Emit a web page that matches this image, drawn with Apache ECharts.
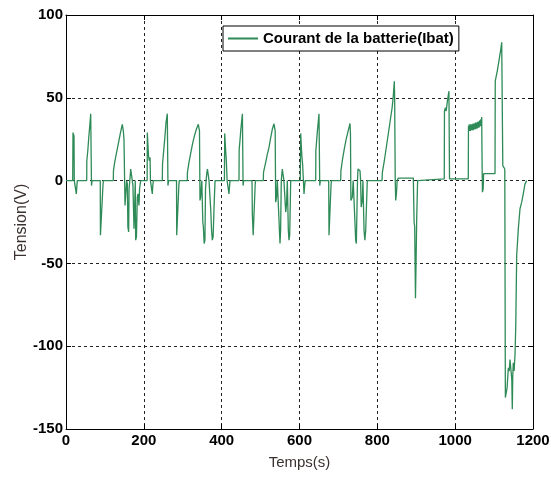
<!DOCTYPE html>
<html>
<head>
<meta charset="utf-8">
<script src="https://cdn.jsdelivr.net/npm/echarts@6/dist/echarts.min.js"></script>
<style>
html,body{margin:0;padding:0;background:#fff;}
#chart{width:551px;height:477px;}
</style>
</head>
<body>
<div id="chart"></div>
<script>
// ---- data ----
const seriesName = 'Courant de la batterie(Ibat)';
const xAxisName = 'Temps(s)';
const yAxisName = 'Tension(V)';
const xTicks = [0, 200, 400, 600, 800, 1000, 1200];
const yTicks = [-150, -100, -50, 0, 50, 100];

const times = [
  0, 17.2, 18, 20.6, 21.3, 25.7, 26.5, 28.3, 29, 53.2, 53.5, 56, 58.5, 61, 63.5, 64.5, 65.5, 67,
  88, 88.5, 89.5, 95, 96, 121.5, 122, 125, 130, 135, 140, 144.7, 146, 147.3, 149, 150, 151.6, 153,
  155.9, 157.6, 159, 161, 162, 164, 166.2, 168, 170.4, 172, 174.7, 176, 178, 179, 181, 183.3, 185,
  187.6, 189, 191.9,
  208.5, 209, 211, 212, 214, 216, 217, 221, 221.8, 223, 224.5, 247.5, 248, 251, 254, 257, 260.3,
  261, 262, 263.5, 284, 284.5, 286, 290, 291, 311.7, 312, 316, 320, 325, 330, 335, 340, 341.8, 343,
  344.3, 346, 349, 350.2, 351.5, 353, 355, 357, 358.5, 360, 362, 363.5, 366, 367.5, 370, 372, 374,
  376, 378, 381, 383,
  407, 407.8, 409.5, 410.3, 412, 414, 418, 418.8, 420, 421.5, 444.5, 445, 447, 449, 451, 453.3,
  454, 455, 456.5, 478, 478.8, 481, 482, 486, 487, 507, 507.5, 513.1, 517.4, 521.6, 526, 530.1,
  534.5, 536.3, 537.5, 538.8, 541, 543, 548, 549.9, 551.5, 553.2, 555.8, 558.4, 560, 563, 564.5,
  566.5, 568.7, 570, 571.3, 573, 574.8, 577.4,
  602, 603, 605, 606, 608, 610, 611.6, 613, 614.5, 641.6, 642, 644, 646, 648, 650.1, 651, 652,
  653.5, 675, 675.8, 677, 681, 682, 705.8, 706.5, 710, 715, 720, 725, 729.8, 731, 732, 735.6, 738,
  743, 744.4, 746, 747.5, 749, 750.3, 755.5, 757, 758.5, 761.4, 763, 765.8, 768, 770.1, 774.2,
  812, 813, 818, 823, 828, 833, 838, 841, 842.5, 843.6, 844.5, 846, 847.2, 849, 851, 853.9,
  892.5, 894.5, 896, 898, 899.5, 901, 903.5, 905, 972, 972.5, 975, 977, 980, 984, 985, 985.5,
  1033.7, 1034.2, 1035, 1036, 1037, 1038, 1039, 1040, 1041, 1042, 1043, 1044, 1045, 1046, 1047,
  1048, 1049, 1050, 1051, 1052, 1053, 1054, 1055, 1056, 1057, 1058, 1059, 1060, 1061, 1062, 1063,
  1064, 1065, 1066, 1067, 1068.2, 1068.8, 1070, 1072, 1073, 1102.4, 1103, 1108, 1113, 1117, 1119.6,
  1121, 1122.4, 1124, 1127.5, 1129, 1131, 1133.5, 1136.6, 1139, 1140.9, 1144, 1145.5, 1146.8, 1148,
  1149.4, 1151.5, 1153.8, 1155.6, 1158.1, 1160, 1162.3, 1166.6, 1171, 1175, 1179.5, 1183.8
];

const current = [
  0, 0, 29, 27, 0, 0, -8, -2, 0, 0, 12, 18, 26, 33, 40.4, 40, -3, 0,
  0, -33, -33, -3, 0, 0, 6, 11, 17, 23, 29, 34, 35, 30, 25, 10, -15, -10,
  0, -2, -28, -31, -5, 0, 7, 6, 0, -3, -29, -20, 0, -36, -34, -10, -8,
  -15, -5, 0,
  0, 29, 28, 15, 12, 14, 0, 0, -8, -3, 0, 0, 10, 18, 26, 35, 40.4,
  40, -3, 0, 0, -33, -33, -3, 0, 0, 5, 11, 16, 22, 27, 31, 34, 35, 30,
  -12, -10, 0, 0, -25, -28, -38, -36, -5, 0, 5, 7, 6, 0, 0, -18, -30,
  -36, -34, -12, 0,
  0, 28.5, 28, 18, 12, 0, 0, -8, -4, 0, 0, 19, 24, 30, 35, 40.4,
  40, -3, 0, 0, -20, -33, -33, -3, 0, 0, 5, 11, 16, 20, 26, 31,
  34.3, 35, 30, -13, -10, 0, 0, -38, -30, 0, 7, 6, 0, 0, -19,
  -15, 0, 0, -30, -36, -33, 0,
  0, 28.5, 28, 15, 10, 0, -8, -4, 0, 0, 18, 24, 30, 35, 40.4, 40, -3,
  0, 0, -33, -33, -3, 0, 0, 6, 12, 19, 25, 30, 34.5, 28, -12, -10, 0,
  0, -36, -38, -20, 0, 7, 6, 0, -16, -12, 0, -30, -36, -30, 0,
  0, 5, 12, 20, 28, 36, 44, 51, 52, 60, 50, 0, -12, -8, 0, 1.5,
  1.5, -25, -28, -71, -50, -25, 0, 1, 1, 42, 44, 42, 48, 54, 55, 1,
  1, 33, 30, 34, 30, 33.5, 30, 34, 30.5, 34, 30.5, 34, 30.5, 34.5, 30.5,
  34.5, 31, 34.5, 31, 35, 31, 35, 31.5, 35, 31.5, 35.5, 32, 35.5, 32, 36, 32.5,
  36.5, 33, 37, 35, 38.4, 20, -7, -5, 4.2, 4.2, 60, 66, 73, 79, 83.5,
  83, 9, 8, 7, -131, -130, -125, -113, -115, -108, -109, -120, -138, -118,
  -110, -115, -105, -89, -45, -38, -29, -17, -13, -8, -2, 0
];

// ---- chart ----
const chart = echarts.init(document.getElementById('chart'), null, {renderer: 'canvas'});
const data = times.map((t, i) => [t, current[i]]);
const FONT = '"Liberation Sans", Arial, sans-serif';
const green = '#2e8b57';

const tickLabelStyle = {color: '#000', fontFamily: FONT, fontWeight: 'bold', fontSize: 15,
  formatter: v => String(v)};

chart.setOption({
  animation: false,
  backgroundColor: '#fff',
  grid: {left: 66, right: 18, top: 15, bottom: 48, show: false, containLabel: false, outerBoundsMode: 'none'},
  legend: {
    data: [seriesName],
    left: 223, top: 26,
    backgroundColor: '#fff',
    borderColor: '#000', borderWidth: 1,
    padding: [5, 5],
    icon: 'rect', itemWidth: 30, itemHeight: 2, itemGap: 4,
    textStyle: {color: '#000', fontFamily: FONT, fontWeight: 'bold', fontSize: 15}
  },
  xAxis: [{
    type: 'value', min: xTicks[0], max: xTicks[xTicks.length - 1], interval: 200,
    position: 'bottom',
    name: xAxisName, nameLocation: 'middle', nameGap: 26, nameMoveOverlap: false,
    nameTextStyle: {color: '#3a3030', fontFamily: FONT, fontSize: 15},
    axisLine: {show: true, onZero: false, lineStyle: {color: '#000', width: 1}},
    axisTick: {show: true, inside: true, length: 5, lineStyle: {color: '#000'}},
    axisLabel: Object.assign({margin: 4}, tickLabelStyle),
    splitLine: {show: true, lineStyle: {color: '#222', type: [3, 3], width: 1}}
  }, {
    type: 'value', min: xTicks[0], max: xTicks[xTicks.length - 1], interval: 200,
    position: 'top',
    axisLine: {show: true, onZero: false, lineStyle: {color: '#000', width: 1}},
    axisTick: {show: true, inside: true, length: 5, lineStyle: {color: '#000'}},
    axisLabel: {show: false}, splitLine: {show: false}
  }],
  yAxis: [{
    type: 'value', min: yTicks[0], max: yTicks[yTicks.length - 1], interval: 50,
    position: 'left',
    name: yAxisName, nameLocation: 'middle', nameGap: 36, nameMoveOverlap: false,
    nameTextStyle: {color: '#3a3030', fontFamily: FONT, fontSize: 16},
    axisLine: {show: true, onZero: false, lineStyle: {color: '#000', width: 1}},
    axisTick: {show: true, inside: true, length: 5, lineStyle: {color: '#000'}},
    axisLabel: Object.assign({margin: 3}, tickLabelStyle),
    splitLine: {show: true, lineStyle: {color: '#222', type: [3, 3], width: 1}}
  }, {
    type: 'value', min: yTicks[0], max: yTicks[yTicks.length - 1], interval: 50,
    position: 'right',
    axisLine: {show: true, onZero: false, lineStyle: {color: '#000', width: 1}},
    axisTick: {show: true, inside: true, length: 5, lineStyle: {color: '#000'}},
    axisLabel: {show: false}, splitLine: {show: false}
  }],
  series: [{
    name: seriesName,
    type: 'line',
    xAxisIndex: 0, yAxisIndex: 0,
    data: data,
    showSymbol: false,
    symbol: 'none',
    sampling: null,
    lineStyle: {color: green, width: 1.3},
    itemStyle: {color: green},
    z: 3
  }]
});
</script>
</body>
</html>
